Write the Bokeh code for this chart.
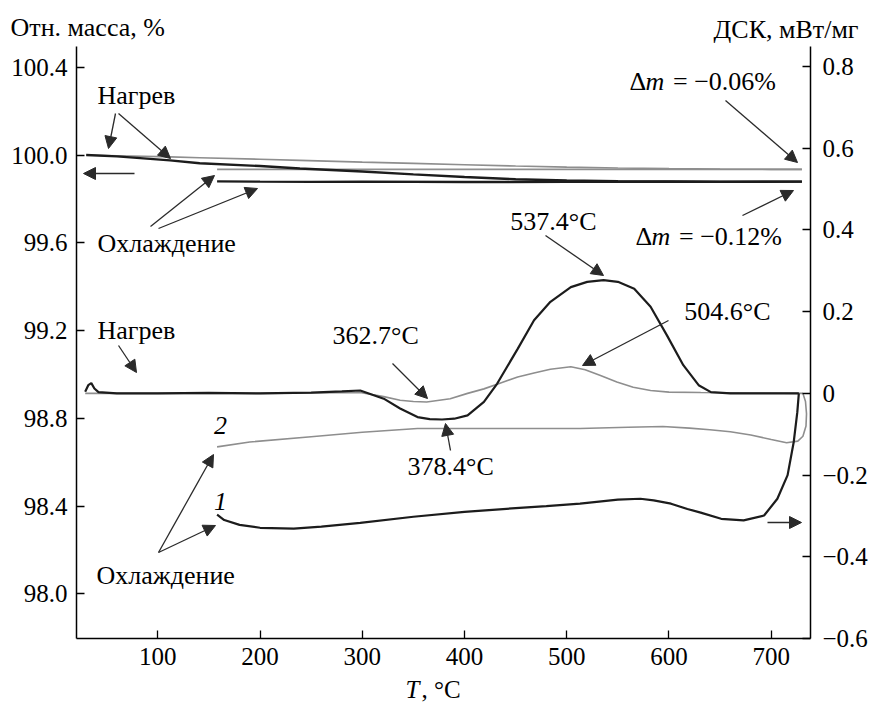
from bokeh.plotting import figure
from bokeh.models import Range1d, LinearAxis, FixedTicker, Label, Arrow, NormalHead
from bokeh.embed import file_html
from bokeh.resources import INLINE

# ---------------- data ----------------
# TG (relative mass, %) - heating
mass_T_heat = [30, 60, 112, 141, 200, 239, 300, 350, 400, 450, 500, 550, 600, 650, 700, 730]
mass1_heat = [100.0, 99.994, 99.976, 99.963, 99.950, 99.939, 99.925, 99.912, 99.900,
              99.890, 99.884, 99.881, 99.880, 99.879, 99.879, 99.879]
mass2_heat = [100.0, 99.997, 99.992, 99.988, 99.981, 99.976, 99.968, 99.962, 99.956,
              99.950, 99.945, 99.941, 99.938, 99.936, 99.935, 99.935]
# TG - cooling
mass_T_cool = [730, 650, 600, 500, 400, 300, 250, 200, 158]
mass1_cool = [99.879, 99.878, 99.879, 99.878, 99.877, 99.879, 99.878, 99.879, 99.880]
mass2_cool = [99.935, 99.935, 99.935, 99.935, 99.935, 99.935, 99.935, 99.935, 99.935]

# DSC (mW/mg) - heating
dsc1_T_heat = [29, 32, 35, 38, 42, 60, 100, 150, 200, 250, 280, 298, 321, 337, 354, 366,
               378, 390, 403, 419, 432, 452, 468, 484, 504, 520, 536, 550, 566, 582, 598,
               614, 629, 641, 660, 700, 727]
dsc1_heat = [0.004, 0.02, 0.025, 0.012, 0.003, 0.0, 0.0, 0.001, 0.0, 0.002, 0.005, 0.007,
             -0.013, -0.037, -0.058, -0.063, -0.064, -0.062, -0.054, -0.021, 0.024, 0.109,
             0.179, 0.224, 0.26, 0.273, 0.277, 0.273, 0.256, 0.212, 0.142, 0.069, 0.02,
             0.003, 0.0, 0.0, 0.0]
dsc2_T_heat = [29, 60, 100, 150, 200, 250, 298, 321, 337, 350, 363, 386, 403, 419, 436,
               452, 468, 484, 504, 518, 533, 549, 565, 582, 600, 631, 680, 731]
dsc2_heat = [0.0, 0.0, 0.0, 0.0, 0.0, 0.001, 0.002, -0.008, -0.017, -0.02, -0.021, -0.013,
             0.0, 0.011, 0.026, 0.04, 0.05, 0.059, 0.065, 0.058, 0.044, 0.028, 0.015, 0.007,
             0.003, 0.002, 0.001, 0.0]
# DSC - cooling
dsc1_T_cool = [727, 725.5, 722, 716, 706, 693, 673, 651, 631, 618, 602, 585, 572, 550, 513,
               480, 450, 400, 350, 298, 260, 233, 200, 180, 165, 158]
dsc1_cool = [0.0, -0.046, -0.119, -0.2, -0.258, -0.299, -0.311, -0.307, -0.292, -0.283,
             -0.27, -0.262, -0.258, -0.26, -0.27, -0.276, -0.281, -0.29, -0.302, -0.317,
             -0.326, -0.331, -0.329, -0.322, -0.31, -0.297]
dsc2_T_cool = [731, 733.5, 734.5, 734, 731, 726, 715, 700, 680, 660, 640, 620, 594, 560,
               513, 450, 400, 354, 300, 250, 190, 158]
dsc2_cool = [0.0, -0.02, -0.05, -0.08, -0.105, -0.117, -0.121, -0.113, -0.102, -0.094,
             -0.089, -0.085, -0.081, -0.083, -0.086, -0.086, -0.086, -0.086, -0.095,
             -0.106, -0.119, -0.131]

x_ticks = [100, 200, 300, 400, 500, 600, 700]
mass_ticks = [98.0, 98.4, 98.8, 99.2, 99.6, 100.0, 100.4]
dsc_ticks = [-0.6, -0.4, -0.2, 0.0, 0.2, 0.4, 0.6, 0.8]
dsc_tick_labels = ["\u22120.6", "\u22120.4", "\u22120.2", "0", "0.2", "0.4", "0.6", "0.8"]

# ---------------- geometry ----------------
W, H = 875, 704
PL, PR, PT, PB = 76, 810, 46, 638      # axis box in page pixels
T0, T1 = 20.5, 738.4                   # temperature at left / right axis
M0, M1 = 97.796, 100.495               # mass at bottom / top of the axes
D0, D1 = -0.600, 0.849                 # DSC at bottom / top of the axes


def X(px):
    return T0 + (px - PL) * (T1 - T0) / (PR - PL)


def Y(py):
    return M0 + (PB - py) * (M1 - M0) / (PB - PT)


def YD(py):
    return D0 + (PB - py) * (D1 - D0) / (PB - PT)


FONT = "Liberation Serif"
TICK_SIZE = "25px"
ANN_SIZE = "26px"
BLACK = "#1c1c1c"
GRAY = "#8e8e8e"
ARROW = "#2a2a2a"

# the frame covers the whole canvas; axes sit at fixed positions inside it
p = figure(width=W, height=H, x_range=Range1d(X(0), X(W)), y_range=Range1d(Y(H), Y(0)),
           output_backend="svg", toolbar_location=None, min_border=0,
           x_axis_location=None, y_axis_location=None)
p.extra_y_ranges = {"dsc": Range1d(YD(H), YD(0))}
p.outline_line_color = None
p.grid.visible = False
p.background_fill_color = "white"
p.border_fill_color = "white"

xaxis = LinearAxis(fixed_location=M0, bounds=(T0, T1))
yaxis = LinearAxis(fixed_location=T0, bounds=(M0, M1))
raxis = LinearAxis(fixed_location=T1, bounds=(D0, D1), y_range_name="dsc")
p.add_layout(xaxis, "below")
p.add_layout(yaxis, "left")
p.add_layout(raxis, "right")

for ax in [xaxis, yaxis, raxis]:
    ax.axis_line_color = "black"
    ax.axis_line_width = 1.5
    ax.major_tick_line_color = "black"
    ax.major_tick_line_width = 1.3
    ax.major_tick_in = 8
    ax.major_tick_out = 0
    ax.minor_tick_line_color = None
    ax.major_label_text_font = FONT
    ax.major_label_text_font_size = TICK_SIZE
    ax.major_label_text_color = "black"

xaxis.ticker = FixedTicker(ticks=x_ticks)
xaxis.major_label_standoff = 9
yaxis.ticker = FixedTicker(ticks=mass_ticks)
yaxis.major_label_overrides = {t: f"{t:.1f}" for t in mass_ticks}
yaxis.major_label_standoff = 9
raxis.ticker = FixedTicker(ticks=dsc_ticks)
raxis.major_label_overrides = {t: s for t, s in zip(dsc_ticks, dsc_tick_labels)}
raxis.major_label_standoff = 12

# ---------------- curves ----------------
p.line(mass_T_heat, mass2_heat, line_color=GRAY, line_width=1.6)
p.line(mass_T_cool, mass2_cool, line_color=GRAY, line_width=1.6)
p.line(mass_T_heat, mass1_heat, line_color=BLACK, line_width=2.4)
p.line(mass_T_cool, mass1_cool, line_color=BLACK, line_width=2.4)

p.line(dsc2_T_heat, dsc2_heat, line_color=GRAY, line_width=1.6, y_range_name="dsc")
p.line(dsc2_T_cool, dsc2_cool, line_color=GRAY, line_width=1.6, y_range_name="dsc")
p.line(dsc1_T_heat, dsc1_heat, line_color=BLACK, line_width=2.2, y_range_name="dsc")
p.line(dsc1_T_cool, dsc1_cool, line_color=BLACK, line_width=2.2, y_range_name="dsc")


# ---------------- annotations (positions given in page pixels) ----------------
def txt(px, py, s, align="left", italic=False, size=ANN_SIZE):
    p.add_layout(Label(x=X(px), y=Y(py), text=s, text_font=FONT, text_font_size=size,
                       text_align=align, text_baseline="middle", text_color="black",
                       text_font_style="italic" if italic else "normal"))


def arr(x0, y0, x1, y1):
    p.add_layout(Arrow(x_start=X(x0), y_start=Y(y0), x_end=X(x1), y_end=Y(y1),
                       line_color=ARROW, line_width=1.3,
                       end=NormalHead(size=12, fill_color=ARROW, line_color=ARROW,
                                      line_width=1)))


NB = "\u00a0"
# axis titles
txt(10, 27, "Отн. масса, %")
txt(858, 29, "ДСК, мВт/мг", align="right")
txt(405, 689, "T", italic=True, size=TICK_SIZE)
txt(421, 689, ", °C", size=TICK_SIZE)

# TG annotations
txt(97, 95, "Нагрев")
arr(115, 113, 108, 148)
arr(118, 113, 170, 158)
arr(134, 173, 83, 173)
txt(97, 243, "Охлаждение")
arr(150, 226, 214, 175)
arr(158, 228, 257, 188)

txt(629, 81, "Δ")
txt(645, 81, "m", italic=True)
txt(666, 81, NB + "=" + NB + "\u22120.06%")
arr(725, 100, 797, 162)
txt(635, 236, "Δ")
txt(651, 236, "m", italic=True)
txt(672, 236, NB + "=" + NB + "\u22120.12%")
arr(742, 215, 793, 190)

# DSC annotations
txt(97, 330, "Нагрев")
arr(118, 345, 136, 372)
txt(596, 221, "537.4°C", align="right")
arr(545, 235, 603, 275)
txt(770, 311, "504.6°C", align="right")
arr(668, 320, 582, 365)
txt(332, 335, "362.7°C")
arr(392, 363, 427, 398)
txt(407, 466, "378.4°C")
arr(450, 450, 445, 423)

txt(220, 425, "2", align="center", italic=True)
txt(220, 501, "1", align="center", italic=True)
txt(96, 575, "Охлаждение")
arr(158, 552, 213, 454)
arr(158, 552, 215, 525)
arr(767, 522, 801, 522)

open("out.html", "w").write(file_html(p, INLINE))
